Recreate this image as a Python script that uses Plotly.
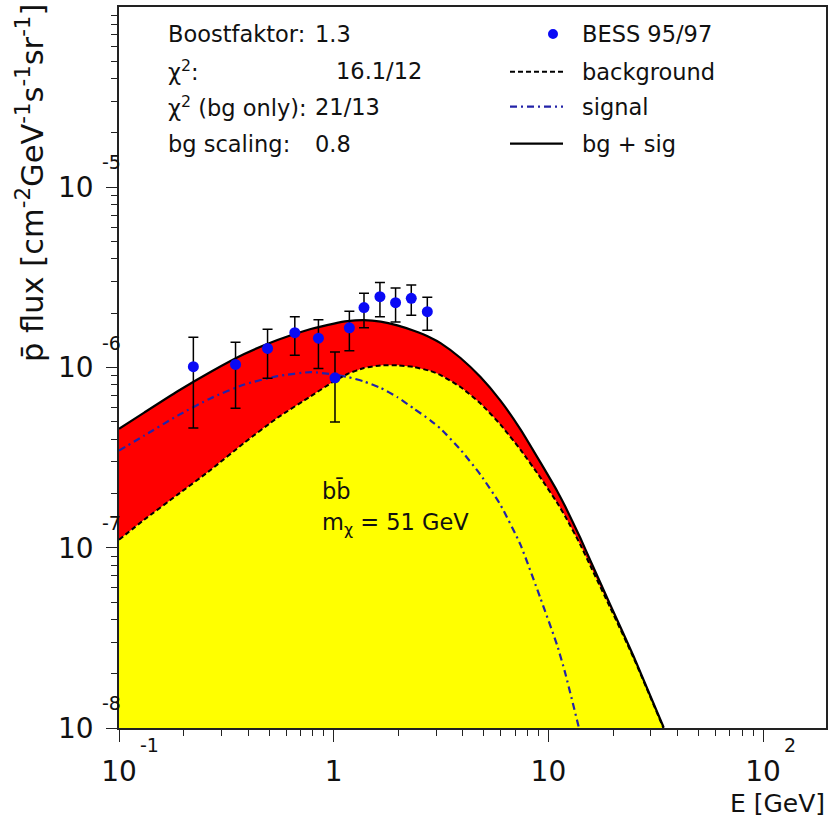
import numpy as np
import plotly.graph_objects as go

# ---------------- data ----------------
# BESS 95/97 antiproton flux points [cm^-2 GeV^-1 s^-1 sr^-1]
bess_E = [0.222, 0.349, 0.492, 0.659, 0.849, 1.014, 1.183, 1.384, 1.642, 1.942, 2.298, 2.729]
bess_flux = [1.01e-6, 1.04e-6, 1.275e-6, 1.56e-6, 1.455e-6, 8.77e-7,
             1.66e-6, 2.15e-6, 2.47e-6, 2.29e-6, 2.42e-6, 2.04e-6]
bess_upper = [1.47e-6, 1.38e-6, 1.63e-6, 1.91e-6, 1.84e-6, 1.22e-6,
              2.05e-6, 2.58e-6, 2.96e-6, 2.76e-6, 2.87e-6, 2.45e-6]
bess_lower = [4.62e-7, 5.95e-7, 8.72e-7, 1.17e-6, 9.87e-7, 4.99e-7,
              1.24e-6, 1.66e-6, 1.91e-6, 1.79e-6, 1.95e-6, 1.61e-6]

# model curves on a common energy grid [GeV]
model_E = [0.1, 0.131, 0.1875, 0.268, 0.383, 0.547, 0.782, 1.003, 1.158, 1.383,
           1.654, 1.978, 2.363, 2.827, 3.146, 3.896, 4.829, 5.98, 7.41, 9.18,
           10.98, 12.0, 14.09, 15.68, 19.43, 24.93, 34.4]
background = [1.107e-7, 1.43e-7, 1.97e-7, 2.71e-7, 3.82e-7, 5.26e-7, 6.93e-7, 8.39e-7,
              9.20e-7, 9.94e-7, 1.026e-6, 1.028e-6, 1.006e-6, 9.56e-7, 9.08e-7,
              7.79e-7, 6.31e-7, 4.82e-7, 3.50e-7, 2.45e-7, 1.778e-7, 1.487e-7,
              1.039e-7, 7.94e-8, 4.64e-8, 2.45e-8, 9.96e-9]
signal = [3.46e-7, 4.19e-7, 5.41e-7, 6.76e-7, 8.05e-7, 8.95e-7, 9.43e-7, 9.14e-7,
          8.87e-7, 8.36e-7, 7.71e-7, 6.85e-7, 5.92e-7, 5.08e-7, 4.58e-7,
          3.50e-7, 2.54e-7, 1.73e-7, 1.04e-7, 5.25e-8, 2.88e-8, 2.00e-8,
          9.3e-9, 5.6e-9, 1.83e-9, 5e-10, 1.3e-10]

x_ticks = [0.1, 1, 10, 100]
x_mantissa = ["10", "1", "10", "10"]
x_exponents = ["-1", None, None, "2"]
y_ticks = [1e-8, 1e-7, 1e-6, 1e-5]
y_exponents = ["-8", "-7", "-6", "-5"]

info_labels = ["Boostfaktor:", "χ<sup>2</sup>:", "χ<sup>2</sup> (bg only):", "bg scaling:"]
info_values = ["1.3", "16.1/12", "21/13", "0.8"]
legend_labels = ["BESS 95/97", "background", "signal", "bg + sig"]

total = np.array(background) + np.array(signal)

# ---------------- style ----------------
FONT = "DejaVu Sans"
TXT = "#111111"
YELLOW = "#ffff00"
RED = "#ff0000"
SIG_BLUE = "#2323a8"
PT_BLUE = "#0a0af5"
SIG_DASH = "7px,4px,2px,4px"
BG_DASH = "5px,3px"

W, H = 840, 819
L, R, T, B = 119, 14, 5, 91
XR = [-1, 2.293]
YR = [-8, -4]
plot_w = W - L - R
plot_h = H - T - B


def px(x):
    return (x - L) / plot_w


def py(y):
    return (H - B - y) / plot_h


y_floor = 10 ** YR[0]
minor_x = [m * 10.0 ** k for k in range(-1, 3) for m in range(2, 10)]
minor_y = [m * 10.0 ** k for k in range(-8, -4) for m in range(2, 10)]
LINE = dict(shape="spline", smoothing=0.5)

fig = go.Figure()

# yellow area: background contribution
fig.add_trace(go.Scatter(x=model_E, y=[y_floor] * len(model_E), mode="lines",
                         line=dict(width=0), showlegend=False, hoverinfo="skip"))
fig.add_trace(go.Scatter(x=model_E, y=background, mode="lines", fill="tonexty",
                         fillcolor=YELLOW, line=dict(width=0, **LINE),
                         showlegend=False, hoverinfo="skip"))
# red area: signal stacked on background
fig.add_trace(go.Scatter(x=model_E, y=total, mode="lines", fill="tonexty",
                         fillcolor=RED, line=dict(width=0, **LINE),
                         showlegend=False, hoverinfo="skip"))

# curves
fig.add_trace(go.Scatter(x=model_E, y=signal, mode="lines", name="signal",
                         line=dict(color=SIG_BLUE, width=2.2, dash=SIG_DASH, **LINE)))
fig.add_trace(go.Scatter(x=model_E, y=background, mode="lines", name="background",
                         line=dict(color="black", width=2, dash=BG_DASH, **LINE)))
fig.add_trace(go.Scatter(x=model_E, y=total, mode="lines", name="bg + sig",
                         line=dict(color="black", width=2.2, **LINE)))

# data points with asymmetric errors
err_plus = [u - f for u, f in zip(bess_upper, bess_flux)]
err_minus = [f - l for f, l in zip(bess_flux, bess_lower)]
fig.add_trace(go.Scatter(x=bess_E, y=bess_flux, mode="markers", name="BESS 95/97",
                         marker=dict(color=PT_BLUE, size=11),
                         error_y=dict(type="data", array=err_plus, arrayminus=err_minus,
                                      color="black", thickness=1.5, width=5)))

TEXT_SIZE = 22.5
EXP_SIZE = 19
ann = []


def note(text, x, y, size=TEXT_SIZE, xanchor="left", **kw):
    ann.append(dict(text=text, x=px(x), y=py(y), xref="paper", yref="paper",
                    xanchor=xanchor, yanchor=kw.pop("yanchor", "middle"), showarrow=False,
                    font=dict(family=FONT, size=size, color=TXT), **kw))


# fit summary block
rows_y = [32, 69, 105, 142]
values_x = [313, 334, 313, 313]
for lab, val, yy, vx in zip(info_labels, info_values, rows_y, values_x):
    note(lab, 166, yy)
    note(val, vx, yy)

# legend block
leg_y = [32, 70, 105, 142]
for txt, yy in zip(legend_labels, leg_y):
    note(txt, 580, yy)

shapes = [
    dict(type="circle", xref="paper", yref="paper",
         x0=px(548), x1=px(558), y0=py(37), y1=py(27),
         fillcolor=PT_BLUE, line=dict(width=0)),
    dict(type="line", xref="paper", yref="paper", x0=px(510), x1=px(563),
         y0=py(leg_y[1]), y1=py(leg_y[1]), line=dict(color="black", width=2, dash=BG_DASH)),
    dict(type="line", xref="paper", yref="paper", x0=px(510), x1=px(563),
         y0=py(leg_y[2]), y1=py(leg_y[2]), line=dict(color=SIG_BLUE, width=2.2, dash=SIG_DASH)),
    dict(type="line", xref="paper", yref="paper", x0=px(510), x1=px(563),
         y0=py(leg_y[3]), y1=py(leg_y[3]), line=dict(color="black", width=2.2)),
]

# annihilation channel
note("bb\u0304", 320, 490)
note("m<sub>χ</sub> = 51 GeV", 320, 523)

# axis titles
note("p\u0304 flux [cm<sup>-2</sup>GeV<sup>-1</sup>s<sup>-1</sup>sr<sup>-1</sup>]",
     30, 0, size=30.5, xanchor="center", yanchor="top", textangle=-90)
note("E [GeV]", 827, 804, size=25, xanchor="right")

# raised exponents of the power-of-ten tick labels
for v, e in zip(x_ticks, x_exponents):
    if e is None:
        continue
    ann.append(dict(text=e, x=np.log10(v), xref="x", y=py(745), yref="paper",
                    xanchor="left", yanchor="middle", xshift=19, showarrow=False,
                    font=dict(family=FONT, size=EXP_SIZE, color=TXT)))
for v, e in zip(y_ticks, y_exponents):
    ann.append(dict(text=e, x=px(100), xref="paper", y=np.log10(v), yref="y",
                    xanchor="left", yanchor="middle", yshift=25, showarrow=False,
                    font=dict(family=FONT, size=EXP_SIZE, color=TXT)))

axis_common = dict(type="log", showgrid=False, zeroline=False, showline=True,
                   linecolor="#222", linewidth=1.5, mirror=True,
                   ticks="outside", tickcolor="#222", tickwidth=1.3,
                   tickfont=dict(family=FONT, size=28, color=TXT))

fig.update_layout(
    width=W, height=H,
    margin=dict(l=L, r=R, t=T, b=B),
    paper_bgcolor="white", plot_bgcolor="white",
    showlegend=False,
    annotations=ann, shapes=shapes,
    xaxis=dict(axis_common, range=XR, tickvals=x_ticks, ticktext=x_mantissa,
               ticklen=12, ticklabelstandoff=6,
               minor=dict(tickvals=minor_x, ticks="outside", ticklen=6,
                          tickcolor="#222", tickwidth=1.2, showgrid=False)),
    yaxis=dict(axis_common, range=YR, tickvals=y_ticks, ticktext=["10"] * len(y_ticks),
               ticklen=11, ticklabelstandoff=7,
               minor=dict(tickvals=minor_y, ticks="outside", ticklen=6,
                          tickcolor="#222", tickwidth=1.2, showgrid=False)),
)

fig.write_html("out.html")
